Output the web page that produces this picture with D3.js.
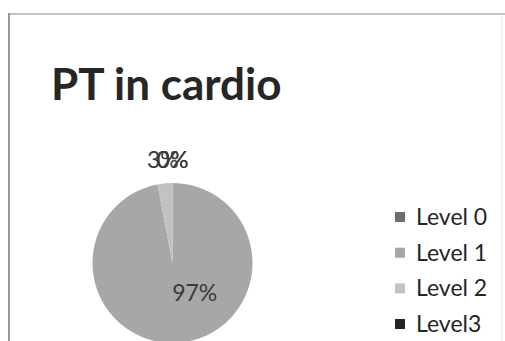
<!DOCTYPE html>
<html><head><meta charset="utf-8">
<script src="https://cdn.jsdelivr.net/npm/d3@7"></script>
<style>html,body{margin:0;padding:0;background:#fff;overflow:hidden}</style>
</head><body>
<svg id="chart" width="505" height="341"></svg>
<script>
const title = "PT in cardio";
const categories = ["Level 0", "Level 1", "Level 2", "Level3"];
const values = [0, 97, 3, 0];
const colors = ["#6e6e6e", "#a7a7a7", "#c2c2c2", "#262626"];

const svg = d3.select("#chart");
const W = 505, H = 341;

// frame
svg.append("line").attr("x1", 9).attr("y1", 14).attr("x2", W).attr("y2", 14).attr("stroke", "#8a8a8a").attr("stroke-width", 1.2);
svg.append("line").attr("x1", 9).attr("y1", 13).attr("x2", 9).attr("y2", H).attr("stroke", "#777").attr("stroke-width", 1.5);
svg.append("line").attr("x1", 502).attr("y1", 14).attr("x2", 502).attr("y2", H).attr("stroke", "#e4e4e4").attr("stroke-width", 1);

// title
svg.append("text").attr("x", 51).attr("y", 100).text(title)
  .attr("font-family", "Lato").attr("font-weight", "bold").attr("font-size", 44).attr("fill", "#262626");

const cx = 172.5, cy = 263, r = 80;
const color = d3.scaleOrdinal().domain(categories).range(colors);
const pie = d3.pie().sort(null).value(d => d.v);
const data = categories.map((c, i) => ({c, v: values[i]}));
const arcs = pie(data);
const arc = d3.arc().innerRadius(0).outerRadius(r);
const g = svg.append("g").attr("transform", `translate(${cx},${cy})`);
g.selectAll("path").data(arcs).join("path")
  .attr("d", arc).attr("fill", d => color(d.data.c));

const total = d3.sum(values);
const fmt = d => Math.round(d.data.v / total * 100) + "%";
// labels: small slices outside, large inside
g.selectAll("text.lbl").data(arcs).join("text").attr("class", "lbl")
  .attr("text-anchor", "middle")
  .attr("font-family", "Lato").attr("font-size", 23).attr("fill", "#3a3a3a")
  .attr("transform", d => {
    const big = d.data.v / total > 0.5;
    const a = big ? 2.51 : (d.startAngle + d.endAngle) / 2;
    const rr = big ? 0.47 * r : 1.29 * r;
    return `translate(${Math.sin(a) * rr},${-Math.cos(a) * rr + 8})`;
  })
  .text(fmt);

// legend
const lg = svg.append("g");
const ly = d3.scalePoint().domain(categories).range([217, 324]);
lg.selectAll("rect").data(categories).join("rect")
  .attr("x", 395).attr("y", d => ly(d) - 5).attr("width", 10).attr("height", 10)
  .attr("fill", d => color(d));
lg.selectAll("text").data(categories).join("text")
  .attr("x", 416).attr("y", d => ly(d) + 8).text(d => d)
  .attr("font-family", "Lato").attr("font-size", 23).attr("fill", "#262626");
</script>
</body></html>
